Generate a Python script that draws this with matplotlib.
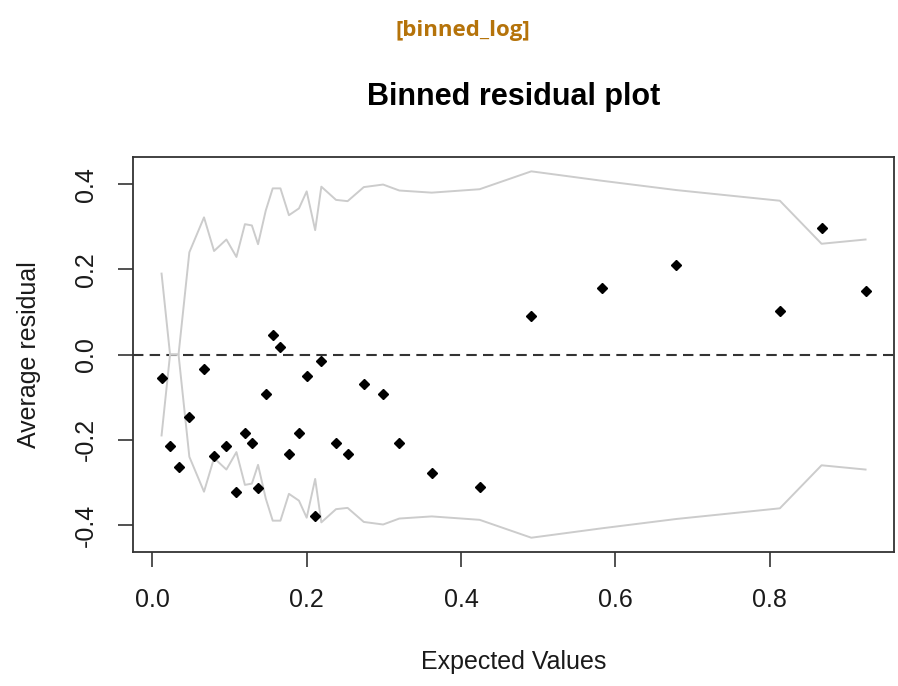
import numpy as np
import matplotlib
matplotlib.use("Agg")
import matplotlib.pyplot as plt

plt.rcParams['font.family'] = ['Liberation Sans', 'DejaVu Sans']
plt.rcParams['axes.unicode_minus'] = False

# binned expected values, average residuals, and +/- 2 SE bounds
expected = [0.012, 0.023, 0.034, 0.048, 0.067, 0.080, 0.096, 0.109, 0.120, 0.129,
            0.137, 0.147, 0.156, 0.166, 0.177, 0.190, 0.200, 0.211, 0.219, 0.238,
            0.253, 0.274, 0.299, 0.320, 0.362, 0.424, 0.491, 0.582, 0.679, 0.813,
            0.867, 0.924]
avg_resid = [-0.054, -0.214, -0.265, -0.146, -0.035, -0.238, -0.214, -0.322, -0.184, -0.207,
             -0.314, -0.093, 0.045, 0.018, -0.234, -0.184, -0.050, -0.379, -0.016, -0.207,
             -0.234, -0.070, -0.093, -0.207, -0.279, -0.310, 0.091, 0.157, 0.210, 0.103,
             0.298, 0.148]
bound = [0.190, 0.0, 0.0, 0.240, 0.322, 0.243, 0.270, 0.229, 0.306, 0.303,
         0.259, 0.338, 0.390, 0.390, 0.327, 0.343, 0.383, 0.292, 0.394, 0.363,
         0.360, 0.393, 0.399, 0.385, 0.380, 0.388, 0.430, 0.408, 0.386, 0.361,
         0.260, 0.270]

x = np.array(expected)
y = np.array(avg_resid)
se2 = np.array(bound)

fig = plt.figure(figsize=(8.98, 6.86), dpi=100)
ax = fig.add_axes([0.1481, 0.1953, 0.8474, 0.5758])

ax.axhline(0, color='#333333', lw=1.5, ls=(0, (5, 3)), zorder=1)
ax.plot(x, se2, color='#cccccc', lw=1.4, zorder=2)
ax.plot(x, -se2, color='#cccccc', lw=1.4, zorder=2)
ax.plot(x, y, 'D', color='black', ms=5.4, zorder=3)

ax.set_xlim(-0.025, 0.9608)
ax.set_ylim(-0.4636, 0.4636)
ax.set_xticks([0.0, 0.2, 0.4, 0.6, 0.8])
ax.set_xticklabels(['0.0', '0.2', '0.4', '0.6', '0.8'])
ax.set_yticks([-0.4, -0.2, 0.0, 0.2, 0.4])
ax.set_yticklabels(['-0.4', '-0.2', '0.0', '0.2', '0.4'])
ax.tick_params(axis='both', direction='out', length=11, width=1.2,
               color='#333333', labelsize=18, labelcolor='#1a1a1a')
ax.tick_params(axis='x', pad=15)
ax.tick_params(axis='y', pad=14, labelrotation=90)
for lab in ax.get_yticklabels():
    lab.set_va('center')
for s in ax.spines.values():
    s.set_color('#333333')
    s.set_linewidth(1.3)

fig.text(0.5156, 0.956, '[binned_log]', color='#b5730a', fontsize=16,
         fontweight='bold', family=['Open Sans', 'DejaVu Sans'],
         ha='center', va='center')
fig.text(0.5718, 0.8586, 'Binned residual plot', fontsize=22,
         fontweight='bold', ha='center', va='center')
fig.text(0.5718, 0.035, 'Expected Values', fontsize=18, color='#1a1a1a',
         ha='center', va='center')
fig.text(0.032, 0.4825, 'Average residual', fontsize=18, color='#1a1a1a',
         rotation=90, ha='center', va='center')

fig.savefig('out.png', dpi=100)
